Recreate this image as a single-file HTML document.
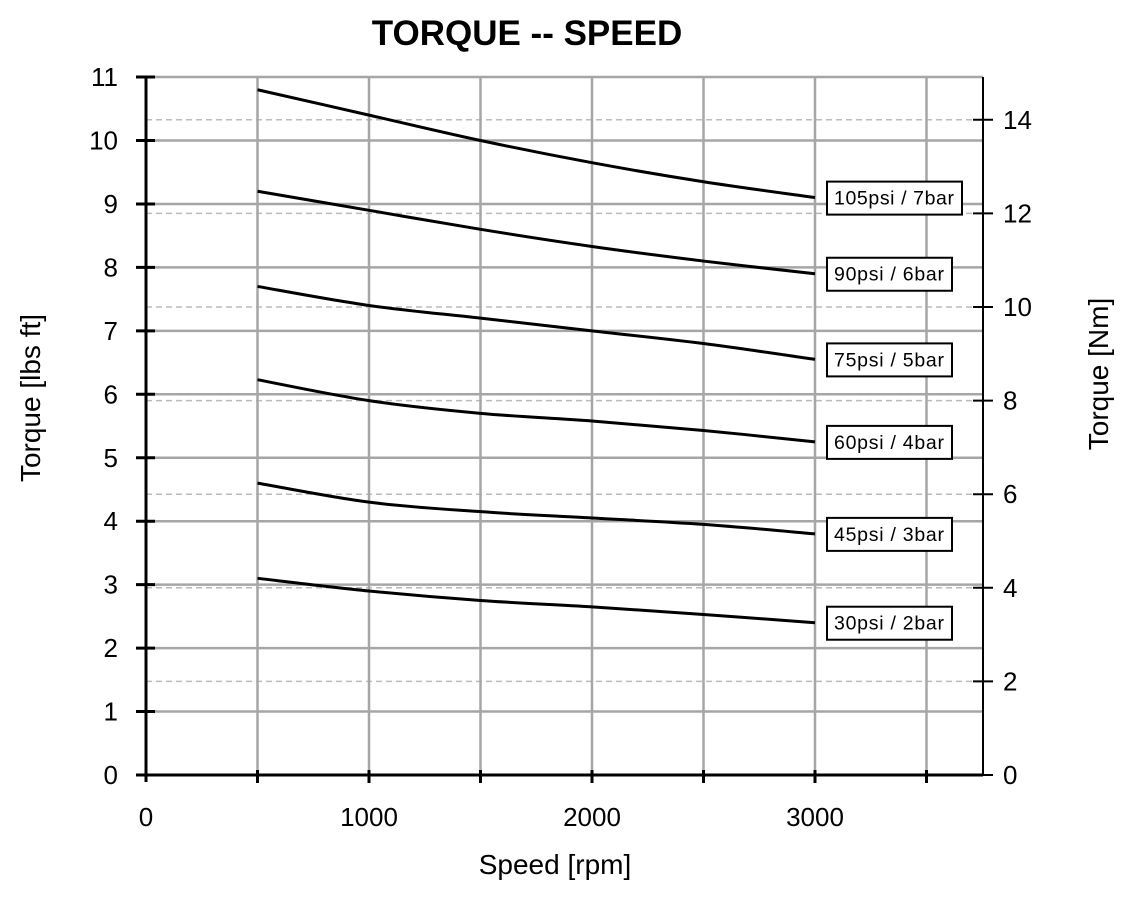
<!DOCTYPE html>
<html><head><meta charset="utf-8"><style>
body{margin:0;background:#fff}
svg text{font-family:"Liberation Sans","DejaVu Sans",sans-serif;fill:#000}
</style></head><body>
<svg id="c" width="1126" height="892" xmlns="http://www.w3.org/2000/svg">
<text x="527" y="45" text-anchor="middle" font-size="35" font-weight="bold">TORQUE -- SPEED</text>
<g id="grid"></g><g id="series"></g><g id="axes"></g>
<text x="555" y="874" font-size="28" text-anchor="middle">Speed [rpm]</text>
<text transform="translate(40,398) rotate(-90)" font-size="28" text-anchor="middle">Torque [lbs ft]</text>
<text transform="translate(1108,374) rotate(-90)" font-size="28" text-anchor="middle">Torque [Nm]</text>
</svg>
<script>
const speeds=[500,1000,1500,2000,2500,3000];
const seriesNames=["105psi / 7bar","90psi / 6bar","75psi / 5bar","60psi / 4bar","45psi / 3bar","30psi / 2bar"];
const s105=[10.8,10.4,10.0,9.65,9.35,9.1];
const s90=[9.2,8.9,8.6,8.33,8.1,7.9];
const s75=[7.7,7.4,7.2,7.0,6.8,6.55];
const s60=[6.23,5.9,5.7,5.58,5.43,5.25];
const s45=[4.6,4.3,4.15,4.05,3.95,3.8];
const s30=[3.1,2.9,2.75,2.65,2.53,2.4];
const xTicks=[0,1000,2000,3000];
const yTicks=[0,1,2,3,4,5,6,7,8,9,10,11];
const nmTicks=[0,2,4,6,8,10,12,14];
const NS="http://www.w3.org/2000/svg";
const X=v=>146+v*0.223, Y=v=>775-v*63.45, YN=v=>775-v*46.8;
function mk(p,t,a){const e=document.createElementNS(NS,t);for(const k in a)e.setAttribute(k,a[k]);document.getElementById(p).appendChild(e);return e;}
for(const t of yTicks){ if(t===0)continue;
 const e=mk('grid','line',{x1:146,x2:983,y1:Y(t),y2:Y(t),stroke:'#a6a6a6','stroke-width':2.5});
 
 }
for(const t of nmTicks){ if(t===0)continue;
 const e=mk('grid','line',{x1:146,x2:983,y1:YN(t),y2:YN(t),stroke:'#bbb','stroke-width':1.5,'stroke-dasharray':'6,4'});
 
 }
for(let v=500;v<=3500;v+=500){
 const e=mk('grid','line',{x1:X(v),x2:X(v),y1:77,y2:775,stroke:'#a6a6a6','stroke-width':2.5});
 
 
 const k=mk('axes','line',{x1:X(v),x2:X(v),y1:770,y2:783,stroke:'#000','stroke-width':3});
 
 }
let a=mk('axes','line',{x1:146,x2:146,y1:77,y2:782,stroke:'#000','stroke-width':3});

a=mk('axes','line',{x1:983,x2:983,y1:77,y2:775,stroke:'#000','stroke-width':2});

a=mk('axes','line',{x1:136,x2:983,y1:775,y2:775,stroke:'#000','stroke-width':3});

for(const t of yTicks){
 const k=mk('axes','line',{x1:136,x2:155,y1:Y(t),y2:Y(t),stroke:'#000','stroke-width':3});
 
 
 const l=mk('axes','text',{x:118,y:Y(t)+9,'font-size':26,'text-anchor':'end'});l.textContent=t;
 
 }
for(const t of nmTicks){
 const k=mk('axes','line',{x1:973,x2:993,y1:YN(t),y2:YN(t),stroke:'#000','stroke-width':2});
 
 
 const l=mk('axes','text',{x:1003,y:YN(t)+9,'font-size':26});l.textContent=t;
 
 }
for(const t of xTicks){
 const l=mk('axes','text',{x:X(t),y:826,'font-size':26,'text-anchor':'middle'});l.textContent=t;
 
 }
function smooth(P){let d='M'+P[0][0]+','+P[0][1];
 for(let i=0;i<P.length-1;i++){const p0=P[Math.max(i-1,0)],p1=P[i],p2=P[i+1],p3=P[Math.min(i+2,P.length-1)];
  const c1=[p1[0]+(p2[0]-p0[0])/6,p1[1]+(p2[1]-p0[1])/6],c2=[p2[0]-(p3[0]-p1[0])/6,p2[1]-(p3[1]-p1[1])/6];
  d+=' C'+c1+' '+c2+' '+p2;}return d;}
const all=[s105,s90,s75,s60,s45,s30];
all.forEach((s,i)=>{
 const P=s.map((v,j)=>[X(speeds[j]),Y(v)]);
 const p=mk('series','path',{d:smooth(P),fill:'none',stroke:'#000','stroke-width':3});
 
 
 const yy=Y(s[s.length-1]);
 const w=seriesNames[i].length>12?135:125;
 const r=mk('series','rect',{x:827,y:yy-16,width:w,height:33,fill:'#fff',stroke:'#000','stroke-width':2});
 
 
 const t=mk('series','text',{x:834,y:yy+7,'font-size':19.5,textLength:w-15});t.textContent=seriesNames[i];
 
 
});
</script>
</body></html>
